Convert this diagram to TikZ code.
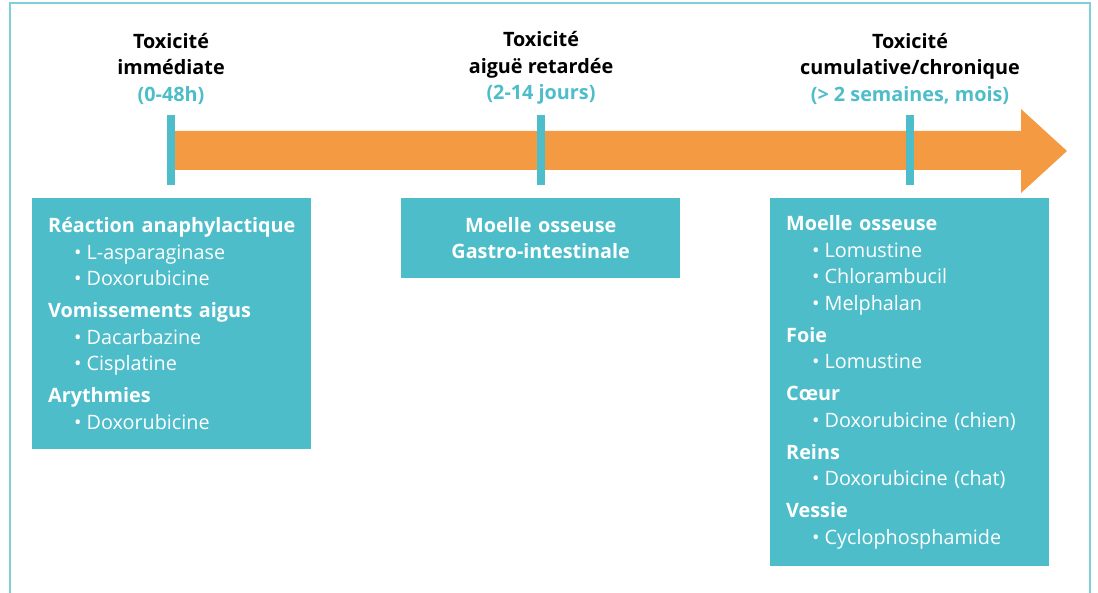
\documentclass[tikz,border=0pt]{standalone}
\usepackage{fontspec}
\setmainfont{Open Sans}
\usepackage{tikz}
\usetikzlibrary{positioning}

\definecolor{tealbox}{HTML}{4EBDCA}
\definecolor{orangebar}{HTML}{F39A43}
\definecolor{framecol}{HTML}{7ECFDA}

\newcommand{\grp}[1]{\mbox{\textbf{#1}}}
\newcommand{\itm}[1]{\hspace*{26pt}\textbullet\hspace{5pt}#1}

\tikzset{
  boxnode/.style={fill=tealbox, text=white, inner xsep=16pt, inner ysep=0pt,
    text width=247pt, align=left, anchor=north west,
    font=\fontsize{19.8}{26.5}\selectfont},
  headnode/.style={align=center, inner sep=0pt,
    font=\fontsize{19.8}{26.5}\selectfont\bfseries},
  tick/.style={fill=tealbox, minimum width=8pt, minimum height=70pt, inner sep=0pt}
}

\begin{document}
\begin{tikzpicture}[x=1pt,y=-1pt]

		\useasboundingbox (0,0) rectangle (1098,593);

		% frame
		\draw[framecol, line width=1.5pt] (10,593) -- (10,3) -- (1090,3) -- (1090,593);

		% time arrow
		\fill[orangebar] (171,131) -- (1021,131) -- (1021,109) -- (1067,151)
		-- (1021,193) -- (1021,170) -- (171,170) -- cycle;

		% ticks
		\node [tick] (tickA) at (171,150) {};
		\node [tick] (tickB) at (541,150) {};
		\node [tick] (tickC) at (910,150) {};

		% headings
		\node [headnode, above=10pt of tickA] (headA)
		{Toxicité\\immédiate\\\textcolor{tealbox}{(0-48h)}};
		\node [headnode, above=10pt of tickB] (headB)
		{Toxicité\\aiguë retardée\\\textcolor{tealbox}{(2-14 jours)}};
		\node [headnode, above=10pt of tickC] (headC)
		{Toxicité\\cumulative/chronique\\\textcolor{tealbox}{(> 2 semaines, mois)}};

		% boxes
		\node [boxnode, minimum height=251pt] (boxA) at (32,198) {%
			\grp{Réaction anaphylactique}\\
			\itm{L-asparaginase}\\
			\itm{Doxorubicine}\\[5.5pt]
			\grp{Vomissements aigus}\\
			\itm{Dacarbazine}\\
			\itm{Cisplatine}\\[5.5pt]
			\grp{Arythmies}\\
			\itm{Doxorubicine}};

		\node [boxnode, minimum height=80pt, align=center] (boxB) at (401,198) {%
			\grp{Moelle osseuse}\\
			\grp{Gastro-intestinale}};

		\node [boxnode, minimum height=368pt] (boxC) at (770,198) {%
			\grp{Moelle osseuse}\\
			\itm{Lomustine}\\
			\itm{Chlorambucil}\\
			\itm{Melphalan}\\[5.5pt]
			\grp{Foie}\\
			\itm{Lomustine}\\[5.5pt]
			\grp{Cœur}\\
			\itm{Doxorubicine (chien)}\\[5.5pt]
			\grp{Reins}\\
			\itm{Doxorubicine (chat)}\\[5.5pt]
			\grp{Vessie}\\
			\itm{Cyclophosphamide}};

\end{tikzpicture}
\end{document}
